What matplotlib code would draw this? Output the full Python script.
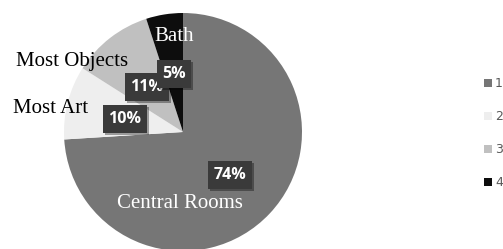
import matplotlib
matplotlib.use("Agg")
import matplotlib.pyplot as plt
import matplotlib.patheffects as pe

# data
categories = ["Central Rooms", "Most Art", "Most Objects", "Bath"]
shares = [74, 10, 11, 5]
legend_labels = ["1", "2", "3", "4"]
colors = ["#767676", "#eeeeee", "#c0c0c0", "#0d0d0d"]

W, H = 503, 249


def px(x, y):
    # pixel position (from top-left) -> data coords
    return x, H - y


fig = plt.figure(figsize=(W / 100, H / 100), dpi=100)
ax = fig.add_axes([0, 0, 1, 1])

wedges, _ = ax.pie(shares, colors=colors, startangle=90, counterclock=False,
                   center=px(183, 132), radius=119, frame=True,
                   wedgeprops=dict(linewidth=0))
ax.set_xlim(0, W)
ax.set_ylim(0, H)
ax.axis("off")

# category labels
name_pos = [(180, 203), (51, 108), (72, 61), (174, 36)]
name_colors = ["white", "black", "black", "white"]
for name, (x, y), c in zip(categories, name_pos, name_colors):
    ax.text(*px(x, y), name, ha="center", va="center", color=c,
            fontsize=15, family="Liberation Serif")

# percentage boxes with a soft shadow
pct_pos = [(230, 175), (125, 119), (147, 87), (174, 74)]
for v, (x, y) in zip(shares, pct_pos):
    t = ax.text(*px(x, y), f"{v}%", ha="center", va="center", color="white",
                fontsize=11.5, fontweight="bold", family="Open Sans",
                bbox=dict(boxstyle="square,pad=0.35", fc="#3a3a3a", ec="none"))
    t.get_bbox_patch().set_path_effects(
        [pe.SimplePatchShadow(offset=(1.5, -1.5), shadow_rgbFace="black", alpha=0.35),
         pe.Normal()])

fig.legend(wedges, legend_labels, loc="center left",
           bbox_to_anchor=(484 / W, 1 - 133 / H), frameon=False,
           fontsize=9, handlelength=0.62, handleheight=0.62,
           handletextpad=0.25, labelspacing=1.6, labelcolor="#595959",
           borderaxespad=0, borderpad=0)

fig.savefig("out.png", dpi=100)
